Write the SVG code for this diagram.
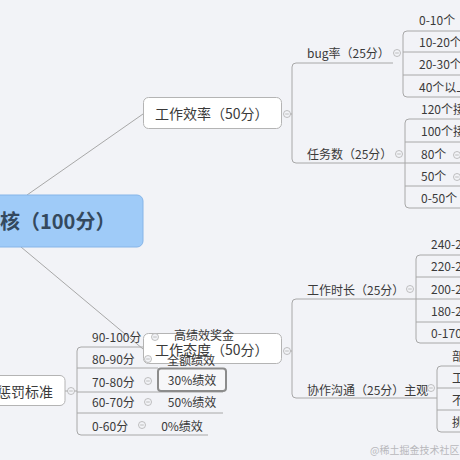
<svg xmlns="http://www.w3.org/2000/svg" width="460" height="460" viewBox="0 0 460 460">
<style>
text{font-family:"Microsoft YaHei","Noto Sans CJK SC","Noto Sans",sans-serif;fill:#3a3a3a}
.t12{font-size:12px}
.t14{font-size:14px}
.ln{fill:none;stroke:#a8a8a8;stroke-width:1}
.box{fill:#ffffff;stroke:#b4b4b4;stroke-width:1}
.tg{fill:#f2f3f7;stroke:#b0b0b0;stroke-width:0.8}
.tgl{stroke:#b0b0b0;stroke-width:0.8}
</style>
<defs>
<g id="toggle"><circle r="3.5" class="tg"/><line x1="-1.8" y1="0" x2="1.8" y2="0" class="tgl"/></g>
</defs>
<rect width="460" height="460" fill="#f2f3f7"/>
<g id="connectors">
<line x1="27" y1="195" x2="143" y2="114" class="ln"/>
<line x1="21" y1="247" x2="143" y2="349" class="ln"/>
<line x1="290" y1="114" x2="292" y2="114" class="ln"/>
<path d="M393,63 H296 Q292,63 292,67 V159 Q292,163 296,163 H460" class="ln"/>
<path d="M460,31 H407 Q403,31 403,35 V93 Q403,97 407,97 H460" class="ln"/>
<line x1="403" y1="52" x2="460" y2="52" class="ln"/>
<line x1="403" y1="75" x2="460" y2="75" class="ln"/>
<path d="M460,119 H409 Q405,119 405,123 V204 Q405,208 409,208 H460" class="ln"/>
<line x1="405" y1="142" x2="460" y2="142" class="ln"/>
<line x1="405" y1="186" x2="460" y2="186" class="ln"/>
<line x1="290" y1="351" x2="292" y2="351" class="ln"/>
<path d="M460,299 H296 Q292,299 292,303 V394 Q292,398 296,398 H437" class="ln"/>
<path d="M460,255 H420 Q416,255 416,259 V339 Q416,343 420,343 H460" class="ln"/>
<line x1="416" y1="277" x2="460" y2="277" class="ln"/>
<line x1="416" y1="322" x2="460" y2="322" class="ln"/>
<path d="M460,366 H441 Q437,366 437,370 V428 Q437,432 441,432 H460" class="ln"/>
<line x1="437" y1="388" x2="460" y2="388" class="ln"/>
<line x1="437" y1="410" x2="460" y2="410" class="ln"/>
<line x1="65" y1="391" x2="77" y2="391" class="ln"/>
<path d="M143,347 H81 Q77,347 77,351 V431 Q77,435 81,435 H208" class="ln"/>
<line x1="77" y1="368" x2="158" y2="368" class="ln"/>
<line x1="77" y1="392" x2="223" y2="392" class="ln"/>
<line x1="77" y1="413" x2="223" y2="413" class="ln"/>
</g>
<g id="root">
<rect x="-10" y="195" width="153" height="52" rx="6" fill="#9fcbf8" stroke="#86b5e8" stroke-width="1"/>
<text x="0" y="229" style="font-size:20px;font-weight:bold;fill:#34495e">核（100分）</text>
</g>
<g id="efficiency">
<rect x="143.5" y="97.5" width="138" height="31" rx="5" class="box"/>
<text x="155" y="119" class="t14">工作效率（50分）</text>
<use href="#toggle" x="287" y="114"/>
</g>
<g id="bug">
<text x="307" y="58" class="t12">bug率（25分）</text>
<use href="#toggle" x="397" y="53"/>
</g>
<g id="bug-0-10"><text x="419" y="25" class="t12">0-10个</text></g>
<g id="bug-10-20"><text x="419" y="47" class="t12">10-20个</text></g>
<g id="bug-20-30"><text x="419" y="69" class="t12">20-30个</text></g>
<g id="bug-40"><text x="419" y="92" class="t12">40个以上</text></g>
<g id="tasks">
<text x="307" y="159" class="t12">任务数（25分）</text>
<use href="#toggle" x="399" y="154"/>
</g>
<g id="task-120"><text x="421" y="114" class="t12">120个接</text></g>
<g id="task-100"><text x="421" y="136" class="t12">100个接</text></g>
<g id="task-80"><text x="421" y="159" class="t12">80个</text><use href="#toggle" x="457" y="155"/></g>
<g id="task-50"><text x="421" y="181" class="t12">50个</text><use href="#toggle" x="457" y="177"/></g>
<g id="task-0-50"><text x="421" y="203" class="t12">0-50个</text></g>
<g id="attitude">
<rect x="143.5" y="333.5" width="138" height="30" rx="5" class="box"/>
<text x="155" y="355" class="t14">工作态度（50分）</text>
<use href="#toggle" x="287" y="351"/>
</g>
<g id="hours">
<text x="307" y="295" class="t12">工作时长（25分）</text>
<use href="#toggle" x="410" y="289"/>
</g>
<g id="h-240"><text x="431" y="249" class="t12">240-2</text></g>
<g id="h-220"><text x="431" y="271" class="t12">220-2</text></g>
<g id="h-200"><text x="431" y="294" class="t12">200-2</text></g>
<g id="h-180"><text x="431" y="316" class="t12">180-2</text></g>
<g id="h-0-170"><text x="431" y="338" class="t12">0-170</text></g>
<g id="collab">
<text x="307" y="395" class="t12">协作沟通（25分）主观</text>
<use href="#toggle" x="431" y="388"/>
</g>
<g id="c-1"><text x="452" y="361" class="t12">部</text></g>
<g id="c-2"><text x="452" y="383" class="t12">工</text></g>
<g id="c-3"><text x="452" y="405" class="t12">不</text></g>
<g id="c-4"><text x="452" y="427" class="t12">挑</text></g>
<g id="penalty">
<rect x="-10" y="375.5" width="75" height="30" rx="5" class="box"/>
<text x="-3" y="397" class="t14">惩罚标准</text>
<use href="#toggle" x="71" y="391"/>
</g>
<g id="p-90"><text x="92" y="342" class="t12">90-100分</text><use href="#toggle" x="155" y="337"/></g>
<g id="p-80"><text x="92" y="364" class="t12">80-90分</text><use href="#toggle" x="148" y="359"/></g>
<g id="p-70"><text x="92" y="387" class="t12">70-80分</text><use href="#toggle" x="148" y="381"/></g>
<g id="p-60"><text x="92" y="407" class="t12">60-70分</text><use href="#toggle" x="148" y="402"/></g>
<g id="p-0"><text x="92" y="431" class="t12">0-60分</text><use href="#toggle" x="142" y="425"/></g>
<g id="r-high"><text x="204" y="340" class="t12" text-anchor="middle">高绩效奖金</text></g>
<g id="r-full"><text x="191" y="365" class="t12" text-anchor="middle">全额绩效</text></g>
<g id="r-30">
<rect x="158" y="368.5" width="68" height="22.5" rx="3" fill="#f7f7f9" stroke="#8c8c8c" stroke-width="2"/>
<text x="192" y="385" class="t12" text-anchor="middle">30%绩效</text>
</g>
<g id="r-50"><text x="192" y="407" class="t12" text-anchor="middle">50%绩效</text></g>
<g id="r-0"><text x="182" y="431" class="t12" text-anchor="middle">0%绩效</text></g>
<text x="370" y="454" style="font-size:10px;fill:#b8b8bc">@稀土掘金技术社区</text>
</svg>
